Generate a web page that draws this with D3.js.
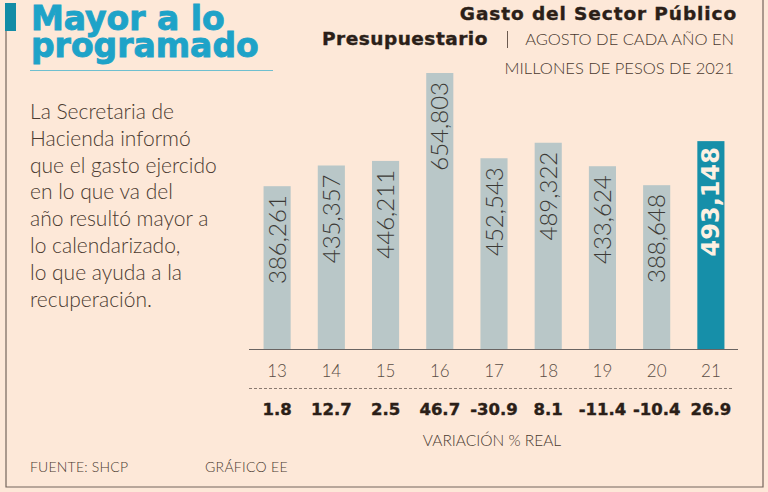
<!DOCTYPE html>
<html><head><meta charset="utf-8">
<script src="https://cdn.jsdelivr.net/npm/d3@7"></script>
<style>
html,body{margin:0;padding:0;background:#fde8d8;}
svg{display:block;}
</style></head>
<body>
<svg id="c" width="768" height="492"></svg>
<script>
const years = ["13","14","15","16","17","18","19","20","21"];
const values = [386261, 435357, 446211, 654803, 452543, 489322, 433624, 388648, 493148];
const variation = ["1.8","12.7","2.5","46.7","-30.9","8.1","-11.4","-10.4","26.9"];
const bodyLines = ["La Secretaria de","Hacienda informó","que el gasto ejercido","en lo que va del","año resultó mayor a","lo calendarizado,","lo que ayuda a la","recuperación."];

const svg = d3.select("#c");
const W = 768, H = 492;
const LIGHT = "Lato, 'Open Sans', sans-serif";
const HEAVY = "'DejaVu Sans', Verdana, sans-serif";
const BG = "#fde8d8", TEAL = "#1ea3c8", DARK = "#2b1f18", TXT = "#4a3a30";

svg.append("rect").attr("width",W).attr("height",H).attr("fill",BG);

// frame
svg.append("path").attr("d","M6,30 V487 H763 V0").attr("fill","none").attr("stroke","#75655c").attr("stroke-width",1.2);
svg.append("rect").attr("x",5).attr("y",3).attr("width",11).attr("height",28).attr("fill","#138ca6");

// title
const t = svg.append("text").attr("font-family",HEAVY).attr("font-weight",700).attr("font-size",33)
  .attr("fill",TEAL).attr("stroke",TEAL).attr("stroke-width",0.9);
t.append("tspan").attr("x",31).attr("y",30).text("Mayor a lo");
t.append("tspan").attr("x",31).attr("y",57).text("programado");
svg.append("line").attr("x1",30).attr("x2",273).attr("y1",70.5).attr("y2",70.5).attr("stroke","#6fbfcf").attr("stroke-width",1);

// body text
svg.append("g").selectAll("text").data(bodyLines).join("text")
  .attr("x",30).attr("y",(d,i)=>119+i*26.8)
  .attr("font-family",LIGHT).attr("font-weight",300).attr("font-size",21).attr("fill",TXT)
  .text(d=>d);

// header right
svg.append("text").attr("x",737).attr("y",20).attr("text-anchor","end")
  .attr("font-family",HEAVY).attr("font-weight",700).attr("font-size",18.5).attr("letter-spacing",0.9)
  .attr("fill",DARK).attr("stroke",DARK).attr("stroke-width",0.4)
  .text("Gasto del Sector Público");
svg.append("text").attr("x",322).attr("y",45)
  .attr("font-family",HEAVY).attr("font-weight",700).attr("font-size",18.5).attr("letter-spacing",0.5)
  .attr("fill",DARK).attr("stroke",DARK).attr("stroke-width",0.4)
  .text("Presupuestario");
svg.append("line").attr("x1",507.5).attr("x2",507.5).attr("y1",31).attr("y2",48).attr("stroke","#6b5a50").attr("stroke-width",1);
svg.append("text").attr("x",734).attr("y",45).attr("text-anchor","end")
  .attr("font-family",LIGHT).attr("font-weight",300).attr("font-size",16.5).attr("fill",TXT)
  .text("AGOSTO DE CADA AÑO EN");
svg.append("text").attr("x",734).attr("y",74).attr("text-anchor","end")
  .attr("font-family",LIGHT).attr("font-weight",300).attr("font-size",16.5).attr("fill",TXT)
  .text("MILLONES DE PESOS DE 2021");

// scales
const x = d3.scaleBand().domain(years).range([250,738]).paddingInner(0.5).paddingOuter(0.25);
const y = d3.scaleLinear().domain([0, d3.max(values)]).range([349, 73]);

const bars = svg.append("g");
bars.selectAll("rect").data(years).join("rect")
  .attr("x",d=>x(d)).attr("width",x.bandwidth())
  .attr("y",(d,i)=>y(values[i])).attr("height",(d,i)=>y(0)-y(values[i]))
  .attr("fill",(d,i)=>i===years.length-1?"#168fa9":"#b9c7c8");

const fmt = d3.format(",");
const last = years.length-1;
bars.selectAll("text").data(years).join("text")
  .attr("transform",(d,i)=>`translate(${x(d)+x.bandwidth()/2+8.5},${y(values[i])+(i===last?6:9)}) rotate(-90)`)
  .attr("text-anchor","end")
  .attr("font-family",(d,i)=>i===last?HEAVY:LIGHT)
  .attr("font-weight",(d,i)=>i===last?700:300)
  .attr("font-size",24)
  .attr("fill",(d,i)=>i===last?"#fdf0e2":"#3c3a36")
  .text((d,i)=>fmt(values[i]));

// baseline axis
const axis = d3.axisBottom(x).tickSize(0).tickPadding(0);
const ag = svg.append("g").attr("transform","translate(0,349)").call(axis);
ag.select(".domain").attr("d","M249,0.5H738").attr("stroke","#6a6462").attr("stroke-width",1.2);
ag.selectAll("text").attr("dy",null).attr("y",28).attr("font-family",LIGHT).attr("font-weight",300).attr("font-size",17).attr("fill","#5a4d45");

// dashed line
svg.append("line").attr("x1",249).attr("x2",733).attr("y1",388.5).attr("y2",388.5)
  .attr("stroke","#8a7a70").attr("stroke-width",1).attr("stroke-dasharray","3,2");

// variation values
svg.append("g").selectAll("text").data(years).join("text")
  .attr("x",(d)=>x(d)+x.bandwidth()/2).attr("y",414.5)
  .attr("text-anchor","middle")
  .attr("font-family",HEAVY).attr("font-weight",700).attr("font-size",16.5)
  .attr("fill",DARK).attr("stroke",DARK).attr("stroke-width",0.4)
  .text((d,i)=>variation[i]);

svg.append("text").attr("x",492).attr("y",446).attr("text-anchor","middle")
  .attr("font-family",LIGHT).attr("font-weight",300).attr("font-size",15.5).attr("fill",TXT)
  .text("VARIACIÓN % REAL");

// footer
svg.append("text").attr("x",30).attr("y",472)
  .attr("font-family",LIGHT).attr("font-weight",300).attr("font-size",14).attr("letter-spacing",0.2).attr("fill",TXT)
  .text("FUENTE: SHCP");
svg.append("text").attr("x",205).attr("y",472)
  .attr("font-family",LIGHT).attr("font-weight",300).attr("font-size",14).attr("letter-spacing",0.3).attr("fill",TXT)
  .text("GRÁFICO EE");
</script>
</body></html>
